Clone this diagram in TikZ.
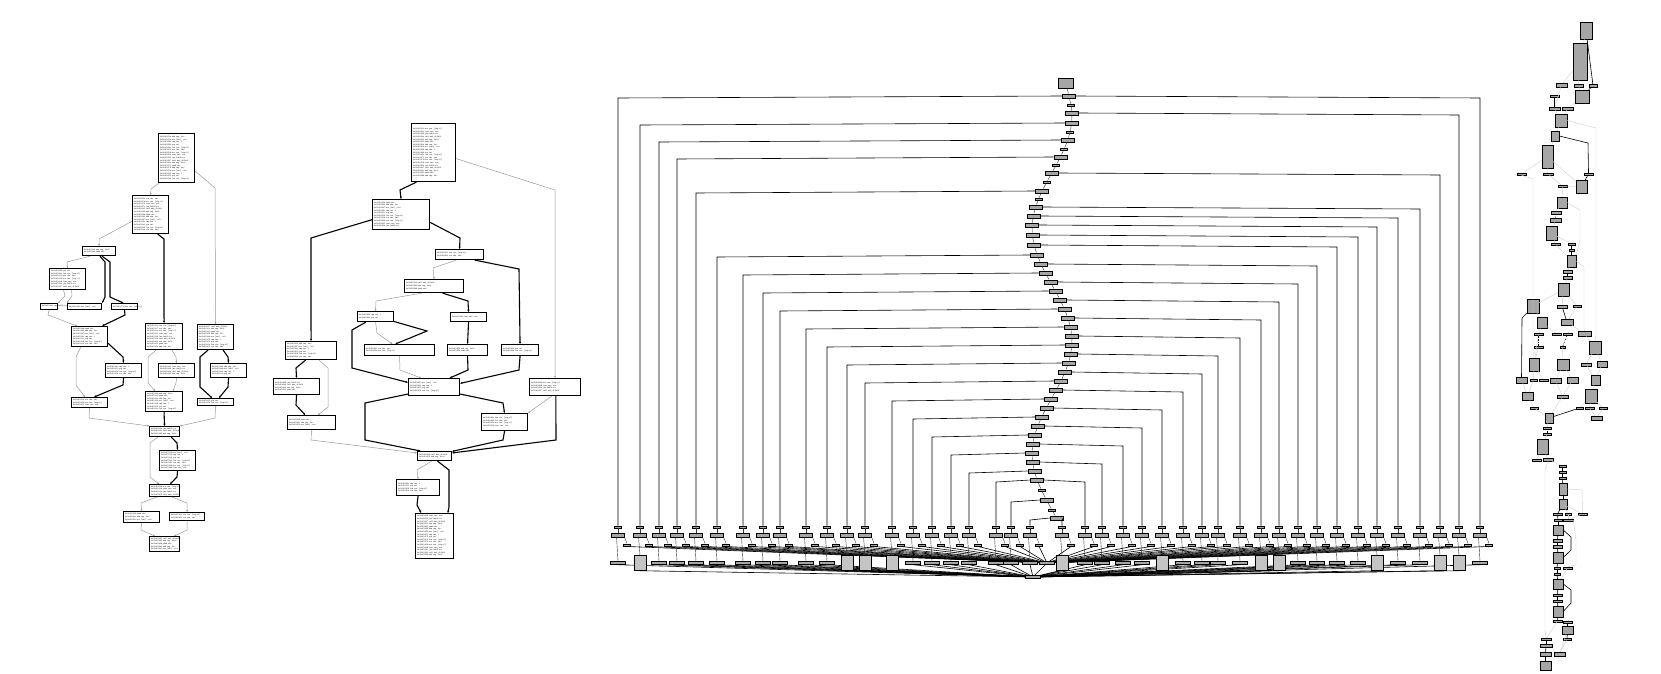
\documentclass[tikz,border=0pt]{standalone}
\usetikzlibrary{positioning,calc,arrows.meta}
\definecolor{cfgEdge}{HTML}{9A9A9A}
\definecolor{cfgFill}{HTML}{A6A6A6}
\definecolor{cfgPale}{HTML}{C4C4C4}
\definecolor{cfgLite}{HTML}{D2D2D2}

% one line of disassembly, picked by number
\newcommand\asmop[1]{\ifcase#1 mov eax, [ebp-8]\or push ebx\or lea ecx, [esp+4]\or call sub\_401b30\or cmp eax, 1\or test eax, eax\or add esp, 0xc\or xor edx, edx\or sub esp, 0x18\or pop esi\or jne 0x401c2e\or mov [esi], edi\fi}
\newcommand\asmlines[2]{%
  \foreach \i in {1,...,#1}{%
    \pgfmathtruncatemacro\av{4096+#2*53+\i*5}%
    \pgfmathtruncatemacro\mk{mod(\i*5+#2,12)}%
    \pgfmathparse{hex(\av)}\edef\ah{\pgfmathresult}%
    \mbox{0x0040\ah\ \asmop{\mk}}\par}}

\tikzset{
  cfgbox/.style={draw=black, line width=1.1pt, fill=white, inner sep=1.2pt,
    anchor=north west, align=left, font=\ttfamily\fontsize{2.1}{2.6}\selectfont},
  cfgtrue/.style={black, line width=1.1pt, -{Stealth[length=2.4pt,width=2pt]}},
  cfgfalse/.style={cfgEdge, line width=.5pt, -{Stealth[length=2.2pt,width=1.8pt]}},
  swnode/.style={draw=black, fill=cfgFill, line width=.45pt, inner sep=0pt,
    minimum width=13pt, minimum height=4.5pt},
  swtiny/.style={swnode, minimum width=7pt, minimum height=2.5pt},
  swlow/.style={swnode, minimum width=15pt, minimum height=3pt},
  swtall/.style={swnode, fill=cfgPale, minimum width=12pt, minimum height=15pt},
  swlink/.style={black!80, line width=.4pt},
  swcase/.style={black, line width=.6pt},
  swbun/.style={black, line width=.6pt},
  g4node/.style={draw=black, fill=cfgFill, line width=.45pt, inner sep=0pt},
  g4dark/.style={black, line width=.6pt},
  g4dot/.style={black, line width=.6pt, densely dotted},
  g4lite/.style={cfgLite, line width=.45pt},
}

% one case of the switch: its column of blocks down to the joins
\newcommand\swcase[2]{%
  \pgfmathtruncatemacro\tl{mod(#2,9)<2}%
  \node[swtiny] (sa#1) at (#2,527) {};
  \node[swnode] (sb#1) at (#2,535) {};
  \node[swtiny] (sc#1) at (#2+9,545) {};
  \ifnum\tl=1 \node[swtall] (sd#1) at (#2,563) {};
  \else \node[swlow] (sd#1) at (#2,563) {}; \fi
  \draw[swlink] (sa#1) -- (sb#1);
  \draw[swlink] (sb#1.south east) -- (sc#1.north);
  \draw[swlink] (sb#1.-120) -- (sd#1.north);
  \draw[swbun] (sc#1.south) -- (swjoinA);
  \draw[swbun] (sd#1.south) -- (swjoinB);
}

\begin{document}
\begin{tikzpicture}[x=1pt, y=-1pt]
\useasboundingbox (0,0) rectangle (1661,674);

%% --- GRAPH 1 ---
\foreach [count=\s] \nm/\xa/\ya/\xb/\yb/\nl in {%
  A/158/133/194/182/17, B/132/195/168/233/13, C/82/246/115/255/2,
  D/49/268/85/289/7, E/40/303/57/309/1, F/67/303/101/309/1,
  G/111/303/137/309/1, H/71/326/107/346/7, I/145/323/182/349/9,
  J/197/324/233/349/9, K/105/363/141/377/4, L/158/363/194/377/4,
  M/210/363/246/377/4, N/71/397/107/407/3, O/145/391/182/411/7,
  P/197/398/233/405/2, Q/149/426/179/436/3, R/159/450/195/470/7,
  S/149/484/179/496/4, T/123/511/159/522/3, U/169/512/204/520/2,
  V/149/536/179/551/5} {
  \pgfmathsetmacro\bw{\xb-\xa}
  \pgfmathsetmacro\bh{\yb-\ya}
  \pgfmathsetmacro\tw{\bw-3}
  \node[cfgbox, minimum width=\bw pt, minimum height=\bh pt, text width=\tw pt]
    (g1\nm) at (\xa,\ya) {\asmlines{\nl}{\s}};
}
\draw[cfgfalse] (g1A.-125) -- (151,189) -- (g1B.north);
\draw[cfgfalse] (g1A.-35) -- (215,188) -- (g1J.north);
\draw[cfgfalse] (g1B.-160) -- (99,239) -- (g1C.north);
\draw[cfgtrue] (g1B.-70) -- (164,239) -- (g1I.north);
\draw[cfgfalse] (g1C.-150) -- (67,262) -- (g1D.north);
\draw[cfgtrue] (g1C.-80) -- (105,262) -- (105,297) -- (g1F.north east);
\draw[cfgtrue] (g1C.-60) -- (110,262) -- (110,297) -- (g1G.110);
\draw[cfgfalse] (g1D.-110) -- (65,296) -- (g1E.north east);
\draw[cfgfalse] (g1D.-70) -- (72,296) -- (g1F.north west);
\draw[cfgfalse] (g1E.south) -- (48,315) -- (g1H.140);
\draw[cfgtrue] (g1G.south) -- (125,315) -- (g1H.40);
\draw[cfgtrue] (g1H.-20) -- (123,357) -- (g1K.north);
\draw[cfgfalse] (g1H.-130) -- (76,357) -- (76,385) -- (g1N.130);
\draw[cfgtrue] (g1K.south) -- (123,385) -- (g1N.50);
\draw[cfgfalse] (g1I.-60) -- (176,357) -- (g1L.north);
\draw[cfgfalse] (g1I.-120) -- (148,357) -- (148,383) -- (g1O.130);
\draw[cfgfalse] (g1L.south) -- (176,383) -- (g1O.50);
\draw[cfgtrue] (g1J.-60) -- (228,357) -- (g1M.north);
\draw[cfgtrue] (g1J.-120) -- (200,357) -- (200,387) -- (g1P.130);
\draw[cfgtrue] (g1M.south) -- (228,387) -- (g1P.50);
\draw[cfgfalse] (g1N.south) -- (89,418) -- (g1Q.160);
\draw[cfgtrue] (g1O.south) -- (g1Q.north);
\draw[cfgfalse] (g1P.south) -- (215,418) -- (g1Q.20);
\draw[cfgtrue] (g1Q.-40) -- (177,443) -- (g1R.north);
\draw[cfgfalse] (g1Q.-140) -- (150,443) -- (150,477) -- (g1S.130);
\draw[cfgtrue] (g1R.south) -- (177,477) -- (g1S.50);
\draw[cfgfalse] (g1S.-140) -- (141,503) -- (g1T.north);
\draw[cfgfalse] (g1S.-40) -- (187,503) -- (g1U.north);
\draw[cfgfalse] (g1T.south) -- (141,530) -- (g1V.140);
\draw[cfgfalse] (g1U.south) -- (187,530) -- (g1V.40);

%% --- GRAPH 2 ---
\foreach [count=\s] \nm/\xa/\ya/\xb/\yb/\nl in {%
  A/411/123/455/181/19, B/372/199/429/229/10, C/435/249/483/259/2,
  D/404/279/463/292/3, E/357/311/393/321/2, F/450/312/486/321/1,
  G/285/341/336/359/6, H/364/344/434/355/2, I/447/344/487/355/2,
  J/501/344/538/355/2, K/273/378/319/394/4, L/408/378/459/395/4,
  M/529/378/580/395/4, N/287/415/335/429/3, O/481/413/527/430/4,
  P/417/451/451/460/2, Q/396/479/439/495/4, R/415/513/453/558/16} {
  \pgfmathsetmacro\bw{\xb-\xa}
  \pgfmathsetmacro\bh{\yb-\ya}
  \pgfmathsetmacro\tw{\bw-3}
  \node[cfgbox, minimum width=\bw pt, minimum height=\bh pt, text width=\tw pt]
    (g2\nm) at (\xa,\ya) {\asmlines{\nl}{\s+30}};
}
\draw[cfgtrue] (g2A.-120) -- (400,190) -- (g2B.north);
\draw[cfgfalse] (g2A.-15) -- (555,190) -- (g2M.north);
\draw[cfgtrue] (g2B.-170) -- (311,238) -- (g2G.north);
\draw[cfgtrue] (g2B.-15) -- (460,238) -- (g2C.north);
\draw[cfgfalse] (g2C.-120) -- (433,268) -- (g2D.north);
\draw[cfgtrue] (g2C.-20) -- (519,269) -- (g2J.north);
\draw[cfgfalse] (g2D.-150) -- (376,301) -- (g2E.north);
\draw[cfgtrue] (g2D.-40) -- (468,301) -- (g2F.north);
\draw[cfgfalse] (g2E.south) -- (377,333) -- (g2H.140);
\draw[cfgtrue] (g2E.-15) -- (427,331) -- (g2H.125);
\draw[cfgtrue] (g2E.-150) -- (352,330) -- (352,368) -- (g2L.170);
\draw[cfgtrue] (g2F.south) -- (g2I.north);
\draw[cfgtrue] (g2G.-120) -- (296,368) -- (g2K.north);
\draw[cfgfalse] (g2G.-50) -- (328,368) -- (328,407) -- (g2N.50);
\draw[cfgtrue] (g2K.south) -- (296,405) -- (g2N.130);
\draw[cfgfalse] (g2H.south) -- (400,370) -- (g2L.145);
\draw[cfgtrue] (g2I.south) -- (468,370) -- (g2L.30);
\draw[cfgtrue] (g2J.south) -- (519,370) -- (g2L.8);
\draw[cfgtrue] (g2L.-165) -- (365,403) -- (365,440) -- (g2P.160);
\draw[cfgtrue] (g2L.-15) -- (503,403) -- (g2O.north);
\draw[cfgfalse] (g2M.-110) -- (g2O.north east);
\draw[cfgtrue] (g2M.-85) -- (556,440) -- (g2P.10);
\draw[cfgtrue] (g2O.south) -- (503,440) -- (g2P.15);
\draw[cfgfalse] (g2N.south) -- (311,440) -- (g2P.170);
\draw[cfgfalse] (g2P.-120) -- (417,470) -- (g2Q.north);
\draw[cfgtrue] (g2P.-60) -- (449,470) -- (449,507) -- (g2R.60);
\draw[cfgtrue] (g2Q.south) -- (417,505) -- (g2R.120);

%% --- GRAPH 3: the switch ---
\def\swlist{%
  96/618/1480, 105/0/0, 113/0/1459, 123/640/0, 132/0/0, 140/659/0,
  149/0/0, 157/677/0, 165/0/0, 173/0/1440, 182/0/0, 191/696/0,
  199/0/0, 207/0/1420, 216/0/1398, 225/0/1377, 235/0/1358, 245/0/1337,
  255/717/0, 264/0/1317, 273/743/0, 282/0/1298, 291/763/0, 300/0/1279,
  309/780/0, 318/0/1261, 327/806/0, 336/0/1240, 345/827/0, 354/0/1218,
  363/847/0, 372/0/1202, 381/865/0, 390/0/1183, 399/892/0, 408/0/1162,
  417/913/0, 426/0/1142, 435/932/0, 444/0/1123, 453/951/0, 462/0/1102,
  471/969/0, 480/996/1085, 490/0/0, 500/1011/0, 510/0/0, 518/1030/1062%
}
\node[swnode, minimum width=15pt, minimum height=10pt] (swtop) at (1066,83) {};
\node[swlow] (swjoinA) at (1047,563) {};
\node[swlow] (swjoinB) at (1033,577) {};
\foreach [count=\c] \yy/\xl/\xr in \swlist {
  \pgfmathsetmacro\cx{1052+20*sin((\yy-60)*1.6)}
  \pgfmathtruncatemacro\hasb{(\xl>0)||(\xr>0)}
  \ifnum\hasb=1 \node[swnode] (sw\c) at (\cx,\yy) {};
  \else \node[swtiny] (sw\c) at (\cx,\yy) {}; \fi
  \ifnum\c=1 \draw[swlink] (swtop) -- (sw\c);
  \else \pgfmathtruncatemacro\p{\c-1} \draw[swlink] (sw\p) -- (sw\c); \fi
  \ifnum\xl>0
    \swcase{L\c}{\xl}
    \draw[swcase] (sw\c.west) -- (\xl,\yy+2) -- (saL\c.north);
  \fi
  \ifnum\xr>0
    \swcase{R\c}{\xr}
    \draw[swcase] (sw\c.east) -- (\xr,\yy+2) -- (saR\c.north);
  \fi
}
\draw[swbun] (swjoinA) -- (swjoinB);

%% --- GRAPH 4 ---
\foreach \nm/\xa/\ya/\xb/\yb in {%
  n1/1580/22/1592/39, n2/1573/43/1587/80, n3/1556/83/1567/87,
  n4/1574/84/1583/87, n5/1589/84/1597/87, n6/1575/90/1589/103,
  n7/1550/95/1559/97, n8/1549/107/1560/110, n9/1562/107/1573/110,
  n10/1555/114/1567/127, n11/1551/131/1559/141, n12/1542/145/1553/168,
  n13/1517/173/1526/175, n14/1543/173/1553/175, n15/1584/173/1593/175,
  n16/1576/180/1587/193, n17/1558/185/1567/187, n18/1557/197/1567/208,
  n19/1551/211/1561/214, n20/1550/218/1561/222, n21/1546/226/1557/240,
  n22/1551/243/1560/245, n23/1568/243/1575/245, n24/1569/249/1574/251,
  n25/1567/255/1576/267, n26/1563/270/1572/273, n27/1563/276/1572/279,
  n28/1558/283/1569/296, n29/1527/299/1539/313, n30/1557/305/1567/308,
  n31/1573/305/1581/307, n32/1561/319/1573/325, n33/1537/317/1547/328,
  n34/1534/333/1543/335, n35/1552/333/1561/335, n36/1563/333/1572/335,
  n37/1578/331/1591/336, m2/1534/346/1543/348, m3/1560/346/1565/348,
  m4/1589/341/1601/354, m5/1529/358/1539/371, m6/1557/359/1569/370,
  m7/1581/363/1591/366, m8/1597/361/1607/367, m9/1516/377/1527/383,
  m10/1530/379/1537/381, m11/1539/379/1548/381, m12/1550/378/1561/383,
  m13/1567/377/1578/383, m14/1591/375/1600/385, m15/1585/389/1597/403,
  m16/1522/392/1533/400, m17/1557/395/1568/398, m18/1530/407/1538/409,
  m19/1576/407/1583/409, m20/1585/407/1594/409, m21/1599/407/1607/409,
  m22/1591/416/1602/420, m23/1545/413/1553/423, m24/1543/427/1551/429,
  m25/1543/433/1551/435, m26/1537/439/1548/454, m27/1532/459/1541/461,
  m28/1543/458/1553/461, m29/1559/465/1566/467, m30/1559/471/1566/473,
  m31/1559/477/1566/479, m32/1559/483/1567/495, m33/1559/499/1567/509,
  m34/1553/513/1562/515, m35/1565/513/1571/515, m36/1578/513/1587/515,
  m37/1554/519/1562/521, m38/1563/519/1573/521, m39/1553/525/1563/535,
  m40/1553/539/1562/542, m41/1553/545/1562/548, m42/1553/552/1563/563,
  m43/1554/567/1560/569, m44/1563/567/1572/569, m45/1554/573/1560/575,
  m46/1553/579/1563/589, m47/1553/594/1562/596, m48/1553/600/1562/602,
  m49/1553/606/1563/617, m50/1553/620/1562/622, m51/1563/621/1572/623,
  m52/1562/626/1573/634, m53/1563/638/1571/640, m54/1541/638/1551/640,
  m55/1540/644/1552/647, m56/1540/652/1551/656, m57/1554/652/1565/656,
  m58/1540/661/1551/670} {
  \pgfmathsetmacro\bw{\xb-\xa}
  \pgfmathsetmacro\bh{\yb-\ya}
  \node[g4node, minimum width=\bw pt, minimum height=\bh pt]
    (k\nm) at ({(\xa+\xb)/2},{(\ya+\yb)/2}) {};
}
% light edges
\foreach \a/\b in {n1/n2, n2/n3, n2/n4, n4/n6, n6/n9, n3/n8, n8/n10, n9/n10,
  n10/n11, n11/n12, n12/n13, n12/n14, n12/n16, n14/n17, n16/n17, n17/n18,
  n18/n19, n20/n21, n21/n22, n21/n23, n22/n25, n25/n26, n27/n28, n28/n29,
  n28/n30, n28/n31, n31/n32, n29/n33, n32/n37, n33/n34, n33/n35, n34/m5,
  m2/m5, m3/m6, n37/m4, m4/m7, m4/m8, m5/m10, m5/m11, m6/m12, m6/m13,
  m7/m14, m8/m14, m9/m16, m10/m16, m12/m17, m13/m17, m14/m15, m15/m19,
  m15/m20, m15/m21, m16/m18, m17/m23, m18/m23, m20/m22, m21/m22, m23/m24,
  m25/m26, m26/m27, m26/m28, m28/m29, m33/m35, m33/m36, m35/m38, m36/m38,
  m44/m46, m53/m57, m50/m54, m52/m57}
  \draw[g4lite] (k\a) -- (k\b);
\draw[g4lite] (kn10.east) -- (1596,128) -- (1596,336) -- (km4.north);
\draw[g4lite] (kn13.south) -- (1533,179) -- (1533,350) -- (km5.north);
\draw[g4lite] (kn18.east) -- (1580,210) -- (1580,240) -- (kn25.north east);
\draw[g4lite] (kn25.east) -- (1584,267) -- (1584,328) -- (kn37.north);
\draw[g4lite] (km28.south) -- (1545,470) -- (1545,630) -- (km54.north);
\draw[g4lite] (km32.east) -- (1582,490) -- (km36.north);
\draw[g4lite] (km38.east) -- (1576,540) -- (1576,565) -- (km44.north);
% dark edges
\foreach \a/\b in {n1/n5, n5/n6, n7/n8, n15/n16, n23/n24, n24/n25, n26/n27,
  n30/n32, m23/m19, m29/m30, m30/m31, m31/m32, m32/m33, m33/m34, m34/m37,
  m37/m39, m39/m40, m40/m41, m41/m42, m42/m43, m43/m45, m45/m46, m46/m47,
  m47/m48, m48/m49, m49/m50, m51/m52, m52/m53, m54/m55, m55/m56, m56/m58}
  \draw[g4dark] (k\a) -- (k\b);
\foreach \a/\b in {n19/n20, m2/n34, m3/n36, m24/m25}
  \draw[g4dot] (k\a) -- (k\b);
\draw[g4dark] (kn11.east) -- (1588,143) -- (kn15.north);
\draw[g4dark] (kn29.south west) -- (1522,318) -- (km9.north);
\draw[g4dark] (km39.east) -- (1571,537) -- (1571,550) -- (km42.east);
\draw[g4dark] (km46.east) -- (1571,590) -- (1571,603) -- (km49.east);

\end{tikzpicture}
\end{document}
